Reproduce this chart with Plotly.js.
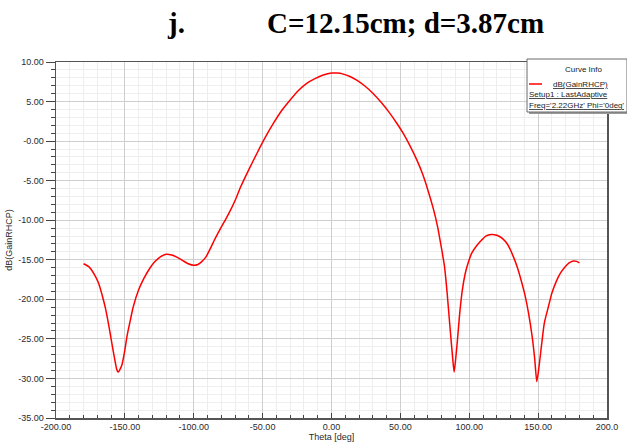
<!DOCTYPE html>
<html>
<head>
<meta charset="utf-8">
<script src="https://cdn.plot.ly/plotly-3.0.1.min.js"></script>
<style>
  html, body { margin: 0; padding: 0; background: #ffffff; }
  #chart { width: 627px; height: 445px; }
</style>
</head>
<body>
<div id="chart"></div>
<script>
// Elevation cut of the RHCP gain pattern (Phi = 0 deg, 2.22 GHz)
const thetaDeg = [
  -180, -176, -172, -169, -166, -164, -162, -160, -158, -156, -155, -154, -152, -150,
  -148.5, -146, -144, -140, -136, -132, -128, -124, -120, -116, -112, -108, -104, -100,
  -97, -94, -91, -88, -85, -82, -78.5, -75, -70, -66, -60, -54, -48, -42, -36, -30,
  -24, -18, -12, -6, 0, 4, 8, 13, 18, 24, 30, 36, 42, 48, 52, 57, 62, 66, 70, 74,
  77, 80, 82, 84, 86, 88, 89, 90, 91.5, 93, 95, 97, 99, 102, 105.5, 109, 112, 116,
  120, 124, 128, 132, 135, 138, 140.5, 143, 145.5, 147.5, 149, 150, 152, 154.5,
  157.5, 160, 163.5, 166.5, 169.5, 172.5, 175.5, 178, 180
];
const gainRHCP = [
  -15.5, -15.9, -16.9, -18.0, -19.8, -21.2, -23.0, -25.0, -27.0, -28.8, -29.2, -29.0, -28.2, -26.4,
  -24.7, -22.6, -21.0, -18.8, -17.3, -16.1, -15.2, -14.6, -14.3, -14.4, -14.7, -15.1, -15.5, -15.7,
  -15.6, -15.2, -14.6, -13.6, -12.5, -11.5, -10.4, -9.3, -7.5, -5.8, -3.6, -1.5, 0.5, 2.3, 3.9, 5.2,
  6.4, 7.3, 7.9, 8.35, 8.6, 8.6, 8.5, 8.2, 7.75, 7.0, 6.05, 4.9, 3.6, 2.1, 1.0, -0.6, -2.4, -4.1, -6.2, -8.6,
  -10.8, -13.7, -15.8, -19.3, -23.5, -27.5, -29.2, -27.8, -25.0, -21.9, -18.8, -16.8, -15.5, -14.1, -13.2, -12.5, -12.0, -11.8,
  -11.9, -12.3, -13.1, -14.6, -16.0, -17.8, -19.5, -21.7, -24.5, -27.5, -30.4, -29.4, -26.5, -23.0,
  -20.9, -19.2, -17.6, -16.6, -15.9, -15.4, -15.15, -15.2, -15.4
];

const xTickVals = [-200, -150, -100, -50, 0, 50, 100, 150, 200];
const xTickText = ['-200.00', '-150.00', '-100.00', '-50.00', '0.00', '50.00', '100.00', '150.00', '200.0'];
const yTickVals = [10, 5, 0, -5, -10, -15, -20, -25, -30, -35];
const yTickText = ['10.00', '5.00', '-0.00', '-5.00', '-10.00', '-15.00', '-20.00', '-25.00', '-30.00', '-35.00'];

const legendLines = ['<u>dB(GainRHCP)</u>', '<u>Setup1 : LastAdaptive</u>', "<u>Freq='2.22GHz' Phi='0deg'</u>"];

// plot-area geometry helpers (pixels -> paper fraction)
const M = { l: 56, r: 20, t: 62, b: 27 };
const W = 627, H = 445;
const PW = W - M.l - M.r, PH = H - M.t - M.b;
const px = x => (x - M.l) / PW;
const py = y => (H - M.b - y) / PH;

const sans = 'Liberation Sans, Arial, sans-serif';
const tickFont = { family: sans, size: 9, color: '#2a2a2a' };

const trace = {
  x: thetaDeg,
  y: gainRHCP,
  type: 'scatter',
  mode: 'lines',
  line: { color: '#ff0000', width: 1.5, shape: 'spline', smoothing: 0.5 },
  showlegend: false,
  hoverinfo: 'x+y'
};

const layout = {
  width: W,
  height: H,
  margin: M,
  paper_bgcolor: '#ffffff',
  plot_bgcolor: '#ffffff',
  showlegend: false,
  xaxis: {
    range: [-200, 200],
    tickmode: 'array',
    tickvals: xTickVals,
    ticktext: xTickText,
    ticks: 'inside',
    ticklen: 5,
    tickcolor: '#444444',
    tickfont: tickFont,
    showgrid: true,
    gridcolor: '#cfcfcf',
    gridwidth: 1,
    minor: { dtick: 10, showgrid: true, gridcolor: '#eeeeee', ticks: 'inside', ticklen: 3, tickcolor: '#444444' },
    showline: true,
    linecolor: '#555555',
    linewidth: 1.5,
    mirror: true,
    zeroline: false,
    title: { text: 'Theta [deg]', font: { family: sans, size: 9, color: '#2a2a2a' }, standoff: 2 }
  },
  yaxis: {
    range: [-35, 10],
    tickmode: 'array',
    tickvals: yTickVals,
    ticktext: yTickText,
    ticks: 'outside',
    ticklen: 9,
    tickcolor: '#444444',
    tickfont: tickFont,
    showgrid: true,
    gridcolor: '#cfcfcf',
    gridwidth: 1,
    minor: { dtick: 1, showgrid: true, gridcolor: '#eeeeee', ticks: 'outside', ticklen: 4, tickcolor: '#444444' },
    showline: true,
    linecolor: '#555555',
    linewidth: 1.5,
    mirror: true,
    zeroline: false,
    title: { text: 'dB(GainRHCP)', font: { family: sans, size: 9, color: '#2a2a2a' }, standoff: 4 }
  },
  shapes: [
    // "Curve Info" box with a soft drop shadow
    { type: 'rect', xref: 'paper', yref: 'paper', x0: px(529), x1: px(629), y0: py(59 + 2), y1: py(112 + 2),
      line: { width: 0 }, fillcolor: '#9a9a9a', layer: 'above' },
    { type: 'rect', xref: 'paper', yref: 'paper', x0: px(527), x1: px(627), y0: py(59), y1: py(112),
      line: { width: 1, color: '#6a6a6a' }, fillcolor: '#ffffff', layer: 'above' },
    { type: 'line', xref: 'paper', yref: 'paper', x0: px(529), x1: px(542), y0: py(84), y1: py(84),
      line: { width: 1.5, color: '#ff0000' }, layer: 'above' }
  ],
  annotations: [
    { text: '<b>j.</b>', xref: 'paper', yref: 'paper', x: px(176), y: py(23), xanchor: 'center', yanchor: 'middle',
      showarrow: false, font: { family: 'Liberation Serif, Times New Roman, serif', size: 29, color: '#000000' } },
    { text: '<b>C=12.15cm; d=3.87cm</b>', xref: 'paper', yref: 'paper', x: px(405), y: py(23), xanchor: 'center', yanchor: 'middle',
      showarrow: false, font: { family: 'Liberation Serif, Times New Roman, serif', size: 29, color: '#000000' } },
    { text: 'Curve Info', xref: 'paper', yref: 'paper', x: px(583), y: py(69), xanchor: 'center', yanchor: 'middle',
      showarrow: false, font: { family: sans, size: 8, color: '#222222' } },
    { text: legendLines[0], xref: 'paper', yref: 'paper', x: px(551), y: py(84), xanchor: 'left', yanchor: 'middle',
      showarrow: false, font: { family: sans, size: 8, color: '#222222' } },
    { text: legendLines[1], xref: 'paper', yref: 'paper', x: px(527), y: py(95), xanchor: 'left', yanchor: 'middle',
      showarrow: false, font: { family: sans, size: 8, color: '#222222' } },
    { text: legendLines[2], xref: 'paper', yref: 'paper', x: px(527), y: py(106), xanchor: 'left', yanchor: 'middle',
      showarrow: false, font: { family: sans, size: 8, color: '#222222' } }
  ]
};

Plotly.newPlot('chart', [trace], layout, { displayModeBar: false, staticPlot: true });
</script>
</body>
</html>
